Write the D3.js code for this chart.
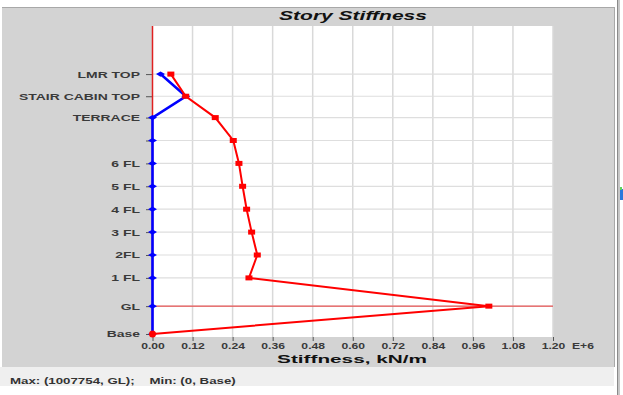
<!DOCTYPE html>
<html><head><meta charset="utf-8">
<script src="https://cdn.jsdelivr.net/npm/d3@7"></script>
<style>html,body{margin:0;padding:0;background:#fff;overflow:hidden}text{font-family:"Liberation Sans",Arial,sans-serif}</style>
</head><body>
<svg id="c" width="623" height="395"></svg>
<script>
// ---- data ----
const levels = ["Base","GL","1 FL","2FL","3 FL","4 FL","5 FL","6 FL","","TERRACE","STAIR CABIN TOP","LMR TOP"];
const elevations = [0,3.65,7.35,10.35,13.35,16.35,19.35,22.35,25.35,28.35,31.15,34.05];
const stiffnessRed = [0,1007754,289000,314000,297000,282000,270000,259000,242000,188000,99500,55000];
const stiffnessBlue = [0,0,0,0,0,0,0,0,0,0,100000,24000];
const xTicks = [0,120000,240000,360000,480000,600000,720000,840000,960000,1080000,1200000];
const xTickLabels = ["0.00","0.12","0.24","0.36","0.48","0.60","0.72","0.84","0.96","1.08","1.20"];
const xUnitSuffix = "E+6";
const titleText = "Story Stiffness";
const xAxisTitle = "Stiffness, kN/m";
const statusText = "Max: (1007754, GL);    Min: (0, Base)";
const yMax = 40.35;

const svg = d3.select("#c");
// background panels
svg.append("rect").attr("x",0).attr("y",0).attr("width",623).attr("height",395).attr("fill","#fff");
svg.append("rect").attr("x",2).attr("y",8).attr("width",612).attr("height",359).attr("fill","#d3d3d3");
svg.append("line").attr("x1",2).attr("x2",614).attr("y1",7.5).attr("y2",7.5).attr("stroke","#a8a8a8");
svg.append("line").attr("x1",614.5).attr("x2",614.5).attr("y1",7).attr("y2",367).attr("stroke","#a8a8a8");
svg.append("rect").attr("x",617).attr("y",0).attr("width",1.5).attr("height",395).attr("fill","#8a8a8a");
svg.append("rect").attr("x",618.5).attr("y",0).attr("width",1.5).attr("height",395).attr("fill","#c8c8c8");
svg.append("rect").attr("x",620).attr("y",189).attr("width",3).attr("height",11).attr("fill","#2a78dc");
svg.append("rect").attr("x",620).attr("y",187).attr("width",2).attr("height",3).attr("fill","#5fd35f");
svg.append("rect").attr("x",0).attr("y",367).attr("width",614).attr("height",19).attr("fill","#efefef");

const x = d3.scaleLinear().domain([0,1200000]).range([152.5,553]);
const y = d3.scaleLinear().domain([0,yMax]).range([334,26]);

// plot area
svg.append("rect").attr("x",152).attr("y",26).attr("width",401).attr("height",311).attr("fill","#fff");

// grid
svg.append("g").selectAll("line").data(xTicks.slice(1)).join("line")
  .attr("x1",d=>x(d)).attr("x2",d=>x(d)).attr("y1",26).attr("y2",337)
  .attr("stroke","#d9d9d9").attr("stroke-width",1.5);
svg.append("g").selectAll("line").data(elevations.slice(1)).join("line")
  .attr("x1",152.5).attr("x2",553).attr("y1",d=>y(d)).attr("y2",d=>y(d))
  .attr("stroke","#dedede").attr("stroke-width",1.2);

// x axis
const gx = svg.append("g").attr("transform","translate(0,337)")
  .call(d3.axisBottom(x).tickValues(xTicks).tickFormat((d,i)=>xTickLabels[i]).tickSize(4).tickPadding(3));
gx.select(".domain").remove();
gx.selectAll(".tick line").attr("stroke","#555");
gx.selectAll(".tick text").attr("y",0).attr("dy",null)
  .attr("transform","translate(0,12) scale(1.35,1)")
  .attr("font-size",9).attr("font-weight","bold").attr("fill","#3a3a3a").attr("font-family","Liberation Sans, Arial, sans-serif");
svg.append("text").attr("transform",`translate(${x(1200000)+19},349) scale(1.35,1)`)
  .attr("font-size",9).attr("font-weight","bold").attr("fill","#3a3a3a").text(xUnitSuffix);

// y axis
const gy = svg.append("g").attr("transform","translate(152,0)")
  .call(d3.axisLeft(y).tickValues(elevations).tickFormat((d,i)=>levels[i]).tickSize(6).tickPadding(6));
gy.select(".domain").remove();
gy.selectAll(".tick line").attr("stroke","#555");
gy.selectAll(".tick text").attr("x",0).attr("dy","0.33em")
  .attr("transform","translate(-12,0) scale(1.55,1)")
  .attr("font-size",9).attr("font-weight","bold").attr("fill","#3a3a3a").attr("font-family","Liberation Sans, Arial, sans-serif");

// reference lines
svg.append("line").attr("x1",x(0)).attr("x2",x(0)).attr("y1",26).attr("y2",334).attr("stroke","#e02020").attr("stroke-width",1.5);
svg.append("line").attr("x1",x(0)).attr("x2",553).attr("y1",y(elevations[1])).attr("y2",y(elevations[1])).attr("stroke","#e83030").attr("stroke-width",1);

// series
const line = d3.line().x(d=>x(d[0])).y(d=>y(d[1]));
const blueData = stiffnessBlue.map((v,i)=>[v,elevations[i]]);
const redData = stiffnessRed.map((v,i)=>[v,elevations[i]]);
svg.append("path").datum(blueData).attr("d",line).attr("fill","none").attr("stroke","#0000ff").attr("stroke-width",2.6);
svg.append("g").selectAll("path").data(blueData).join("path")
  .attr("d",d=>{const cx=x(d[0]),cy=y(d[1]);return `M${cx-4.5},${cy}L${cx},${cy-2.6}L${cx+4.5},${cy}L${cx},${cy+2.6}Z`;})
  .attr("fill","#0000ff");
svg.append("path").datum(redData).attr("d",line).attr("fill","none").attr("stroke","#ff0000").attr("stroke-width",2);
svg.append("g").selectAll("rect").data(redData.slice(1)).join("rect")
  .attr("x",d=>x(d[0])-3.5).attr("y",d=>y(d[1])-2.5).attr("width",7).attr("height",5).attr("fill","#ff0000");
svg.append("circle").attr("cx",x(redData[0][0])).attr("cy",y(redData[0][1])).attr("r",3.5).attr("fill","#ff0000");

// texts with horizontal stretch to target widths
function stretched(txt, cx, cy, size, weight, style, target, anchor){
  const t = svg.append("text").attr("font-size",size).attr("font-weight",weight).attr("font-style",style)
    .style("white-space","pre").attr("xml:space","preserve")
    .attr("fill","#111").text(txt);
  const w = t.node().getComputedTextLength();
  const sx = target / w;
  t.attr("text-anchor",anchor).attr("transform",`translate(${cx},${cy}) scale(${sx},1)`);
  return t;
}
stretched(titleText, 353, 20, 12.5, "bold", "italic", 148, "middle");
stretched(xAxisTitle, 352, 362.5, 11.5, "bold", "normal", 150, "middle");
stretched(statusText, 10, 384, 8.5, "bold", "normal", 226, "start").attr("fill","#333");
</script>
</body></html>
